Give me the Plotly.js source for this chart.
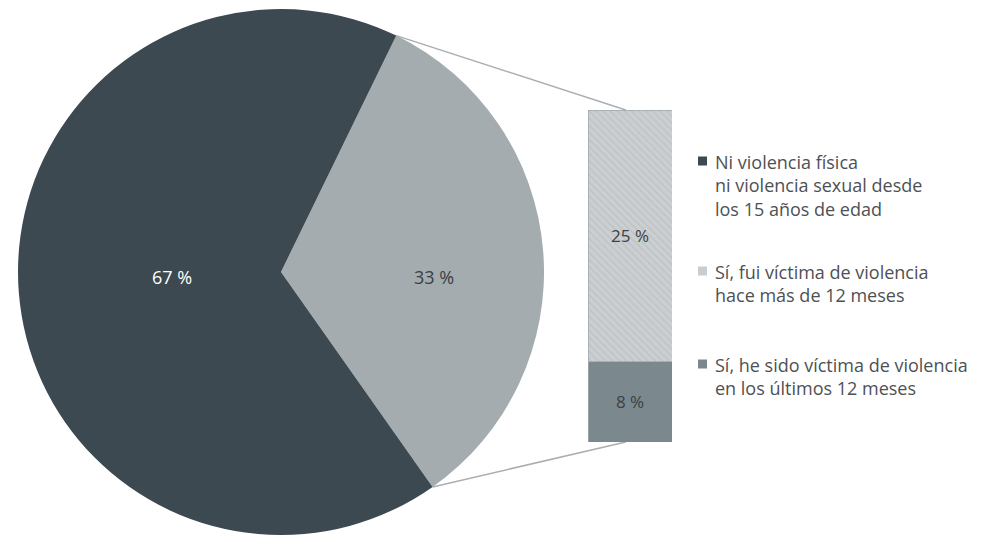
<!DOCTYPE html>
<html><head><meta charset="utf-8">
<script src="https://cdn.plot.ly/plotly-3.0.1.min.js"></script>
<style>body{margin:0;background:#fff}#chart{width:997px;height:539px}</style>
</head><body><div id="chart"></div>
<script>
// ---- data ----
const pieLabels = ['Sí, fui víctima de violencia', 'Ni violencia física ni violencia sexual desde los 15 años de edad'];
const pieValues = [33, 67];
const barLabels = ['Sí, he sido víctima de violencia en los últimos 12 meses', 'Sí, fui víctima de violencia hace más de 12 meses'];
const barValues = [8, 25];
const legendLabels = [
  'Ni violencia física<br>ni violencia sexual desde<br>los 15 años de edad',
  'Sí, fui víctima de violencia<br>hace más de 12 meses',
  'Sí, he sido víctima de violencia<br>en los últimos 12 meses'
];

// ---- style / geometry ----
const W = 997, H = 539;
const cDark = '#3c4950', cLight = '#a4acb0', cHatch = '#cbcfd1', cMid = '#7b888e';
const legendColors = [cDark, '#c9cdcf', cMid];
const font = '"Open Sans", "Noto Sans", sans-serif';
const pieCx = 281, pieCy = 272, pieR = 263, rotation = 26;
const pieLabelFrac = [0.585, 0.415], pieLabelDy = 5;
const barPx = {x0: 588, x1: 672, y0: 110, y1: 442};
const legendPx = {sq: 698, text: 713, rows: [161, 271, 364]};

const pieDomain = {x: [(pieCx - pieR) / W, (pieCx + pieR) / W], y: [1 - (pieCy + pieR) / H, 1 - (pieCy - pieR) / H]};
const barTotal = barValues.reduce((a, b) => a + b, 0);

const traces = [
  {
    type: 'pie', labels: pieLabels, values: pieValues, sort: false,
    direction: 'clockwise', rotation: rotation, domain: pieDomain,
    marker: {colors: [cLight, cDark], line: {width: 0}},
    textinfo: 'none', hoverinfo: 'label+value', showlegend: false
  },
  {
    type: 'bar', x: [0], y: [barValues[0]], name: barLabels[0],
    marker: {color: cMid, line: {color: '#9aa3a7', width: 1}},
    text: [barValues[0] + ' %'], textposition: 'inside', insidetextanchor: 'middle', textangle: 0,
    textfont: {family: font, size: 17, color: '#3a4145'}, width: 1, showlegend: false
  },
  {
    type: 'bar', x: [0], y: [barValues[1]], name: barLabels[1],
    marker: {color: cHatch, line: {color: '#aab1b4', width: 1},
      pattern: {shape: '\\', fgcolor: '#bcc1c4', bgcolor: cHatch, size: 5, solidity: 0.25}},
    text: [barValues[1] + ' %'], textposition: 'inside', insidetextanchor: 'middle', textangle: 0,
    textfont: {family: font, size: 17, color: '#3a4145'}, width: 1, showlegend: false
  }
];

// geometry of pie slices from the data
const pieSum = pieValues.reduce((a, b) => a + b, 0);
const startDeg = [];
let acc = rotation;
pieValues.forEach(v => { startDeg.push(acc); acc += 360 * v / pieSum; });
const rad = d => d * Math.PI / 180;
function piePt(deg, f) { return [(pieCx + f * pieR * Math.sin(rad(deg))) / W, 1 - (pieCy - f * pieR * Math.cos(rad(deg))) / H]; }
const p1 = piePt(startDeg[0], 1), p2 = piePt(startDeg[1], 1);
const barXMid = (barPx.x0 + 0.45 * (barPx.x1 - barPx.x0)) / W;
const shapes = [
  {type: 'line', xref: 'paper', yref: 'paper', x0: p1[0], y0: p1[1], x1: barXMid, y1: 1 - barPx.y0 / H, line: {color: '#a9afb2', width: 1.5}, layer: 'below'},
  {type: 'line', xref: 'paper', yref: 'paper', x0: p2[0], y0: p2[1], x1: barXMid, y1: 1 - barPx.y1 / H, line: {color: '#a9afb2', width: 1.5}, layer: 'below'}
];
const annotations = [];
// pie value labels
pieValues.forEach((v, i) => {
  const mid = startDeg[i] + 180 * v / pieSum;
  const pt = piePt(mid, pieLabelFrac[i]);
  annotations.push({xref: 'paper', yref: 'paper', x: pt[0], y: 1 - (pieCy + pieLabelDy) / H,
    xanchor: 'center', yanchor: 'middle', showarrow: false, text: v + ' %',
    font: {family: font, size: 18, color: i === 0 ? '#3a4145' : '#ffffff'}});
});
// legend
legendLabels.forEach((lab, i) => {
  const cy = legendPx.rows[i];
  shapes.push({type: 'rect', xref: 'paper', yref: 'paper', x0: legendPx.sq / W, x1: (legendPx.sq + 9) / W,
    y0: 1 - (cy + 4.5) / H, y1: 1 - (cy - 4.5) / H, fillcolor: legendColors[i], line: {width: 0}});
  annotations.push({xref: 'paper', yref: 'paper', x: legendPx.text / W, y: 1 - (cy - 13) / H,
    xanchor: 'left', yanchor: 'top', align: 'left', showarrow: false, text: lab,
    font: {family: font, size: 18, color: '#4d5154'}});
});

const layout = {
  width: W, height: H, margin: {l: 0, r: 0, t: 0, b: 0},
  paper_bgcolor: '#ffffff', plot_bgcolor: 'rgba(0,0,0,0)',
  barmode: 'stack', showlegend: false,
  xaxis: {domain: [barPx.x0 / W, barPx.x1 / W], range: [-0.5, 0.5], visible: false, fixedrange: true},
  yaxis: {domain: [1 - barPx.y1 / H, 1 - barPx.y0 / H], range: [0, barTotal], visible: false, fixedrange: true},
  shapes: shapes, annotations: annotations
};
Plotly.newPlot('chart', traces, layout, {displayModeBar: false, staticPlot: true});
</script></body></html>
